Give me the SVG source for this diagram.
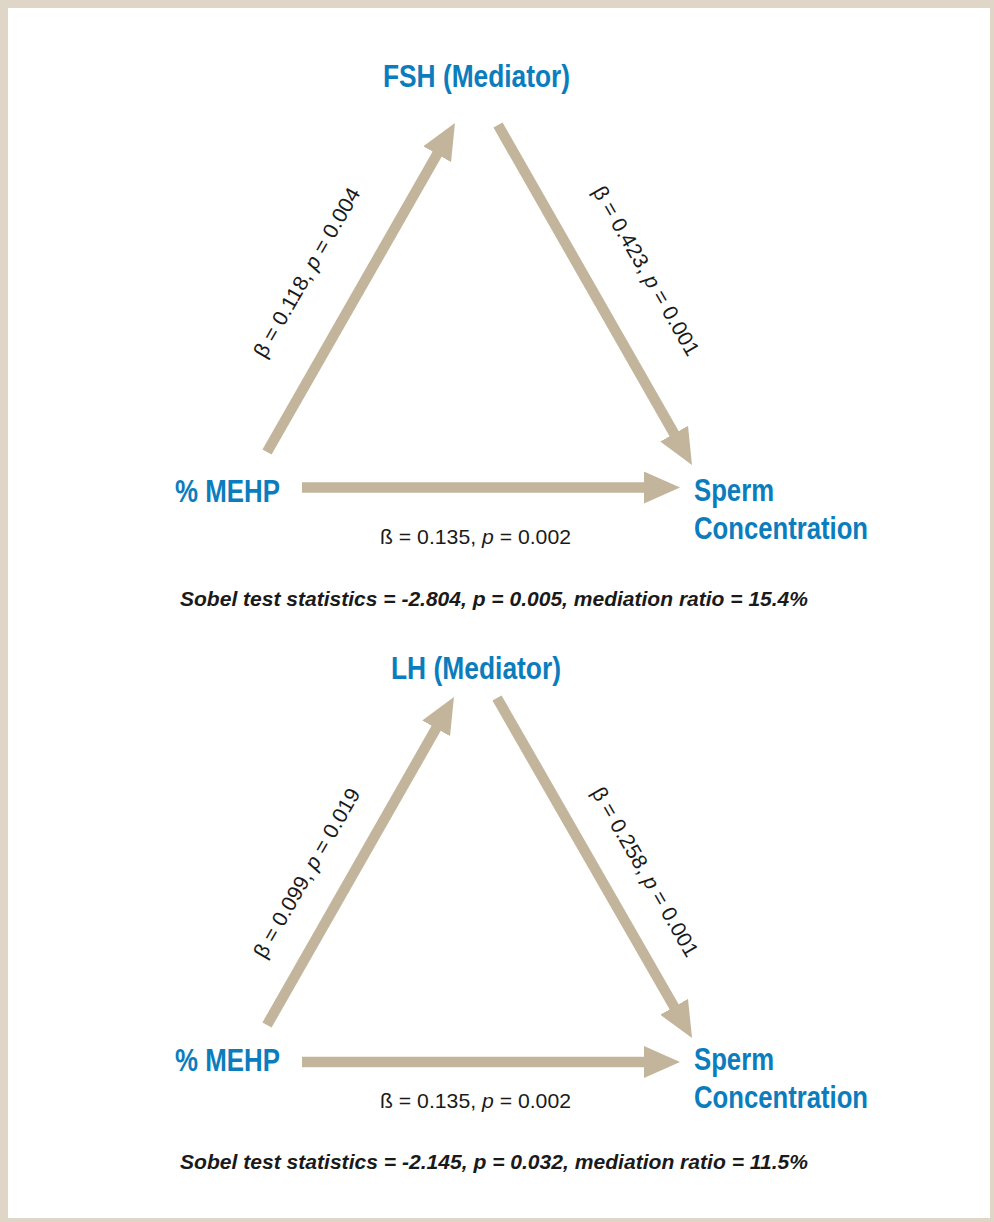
<svg xmlns="http://www.w3.org/2000/svg" width="994" height="1222" viewBox="0 0 994 1222">
<style>
.node{font-family:"Liberation Sans Narrow","Liberation Sans",Arial,sans-serif;font-weight:bold;font-size:32px;fill:#0b7dbd}
.lab{font-family:"Liberation Sans",Arial,sans-serif;font-size:21px;fill:#1a1a1a}
.sobel{font-family:"Liberation Sans",Arial,sans-serif;font-size:20px;font-weight:bold;font-style:italic;fill:#1a1a1a}
.conn{stroke:#c3b59b;stroke-width:10.5;fill:none;marker-end:url(#ah)}
.it{font-style:italic}
</style>
<defs>
<marker id="ah" markerUnits="userSpaceOnUse" markerWidth="36" markerHeight="32" viewBox="0 0 36 32" refX="6" refY="16" orient="auto">
<path d="M0,0 L36,16 L0,32 Z" fill="#c3b59b"/>
</marker>
</defs>
<rect x="0" y="0" width="994" height="1222" fill="#e0d6c7"/>
<rect x="8" y="8" width="982" height="1210" fill="#ffffff"/>

<g id="connectors">
<line class="conn" x1="267" y1="452" x2="440.1" y2="149"/>
<line class="conn" x1="498" y1="125" x2="677.1" y2="438.9"/>
<line class="conn" x1="302" y1="487.5" x2="650" y2="487.5"/>
<line class="conn" x1="267" y1="1025" x2="439.1" y2="723.1"/>
<line class="conn" x1="497" y1="698" x2="677.1" y2="1012"/>
<line class="conn" x1="302" y1="1062" x2="650" y2="1062"/>
</g>

<g id="panel1-labels">
<text class="lab" text-anchor="middle" transform="translate(313,276) rotate(-60)" textLength="192" lengthAdjust="spacingAndGlyphs">β = 0.118, <tspan class="it">p</tspan> = 0.004</text>
<text class="lab" text-anchor="middle" transform="translate(640,274.5) rotate(60)" textLength="192" lengthAdjust="spacingAndGlyphs">β = 0.423, <tspan class="it">p</tspan> = 0.001</text>
<text class="lab" x="380" y="544" textLength="191" lengthAdjust="spacingAndGlyphs">ß = 0.135, <tspan class="it">p</tspan> = 0.002</text>
<text class="sobel" x="180" y="606" textLength="628" lengthAdjust="spacingAndGlyphs">Sobel test statistics = -2.804, p = 0.005, mediation ratio = 15.4%</text>
</g>

<g id="fsh">
<text class="node" x="383" y="87" textLength="187" lengthAdjust="spacingAndGlyphs">FSH (Mediator)</text>
</g>
<g id="mehp1">
<text class="node" x="175" y="502" textLength="105" lengthAdjust="spacingAndGlyphs">% MEHP</text>
</g>
<g id="sperm1">
<text class="node" x="694" y="501" textLength="80" lengthAdjust="spacingAndGlyphs">Sperm</text>
<text class="node" x="694" y="539" textLength="174" lengthAdjust="spacingAndGlyphs">Concentration</text>
</g>

<g id="panel2-labels">
<text class="lab" text-anchor="middle" transform="translate(313,876.5) rotate(-60)" textLength="192" lengthAdjust="spacingAndGlyphs">β = 0.099, <tspan class="it">p</tspan> = 0.019</text>
<text class="lab" text-anchor="middle" transform="translate(639,875.5) rotate(60)" textLength="192" lengthAdjust="spacingAndGlyphs">β = 0.258, <tspan class="it">p</tspan> = 0.001</text>
<text class="lab" x="380" y="1108" textLength="191" lengthAdjust="spacingAndGlyphs">ß = 0.135, <tspan class="it">p</tspan> = 0.002</text>
<text class="sobel" x="180" y="1169" textLength="628" lengthAdjust="spacingAndGlyphs">Sobel test statistics = -2.145, p = 0.032, mediation ratio = 11.5%</text>
</g>

<g id="lh">
<text class="node" x="391" y="679" textLength="170" lengthAdjust="spacingAndGlyphs">LH (Mediator)</text>
</g>
<g id="mehp2">
<text class="node" x="175" y="1071" textLength="105" lengthAdjust="spacingAndGlyphs">% MEHP</text>
</g>
<g id="sperm2">
<text class="node" x="694" y="1070" textLength="80" lengthAdjust="spacingAndGlyphs">Sperm</text>
<text class="node" x="694" y="1108" textLength="174" lengthAdjust="spacingAndGlyphs">Concentration</text>
</g>
</svg>
